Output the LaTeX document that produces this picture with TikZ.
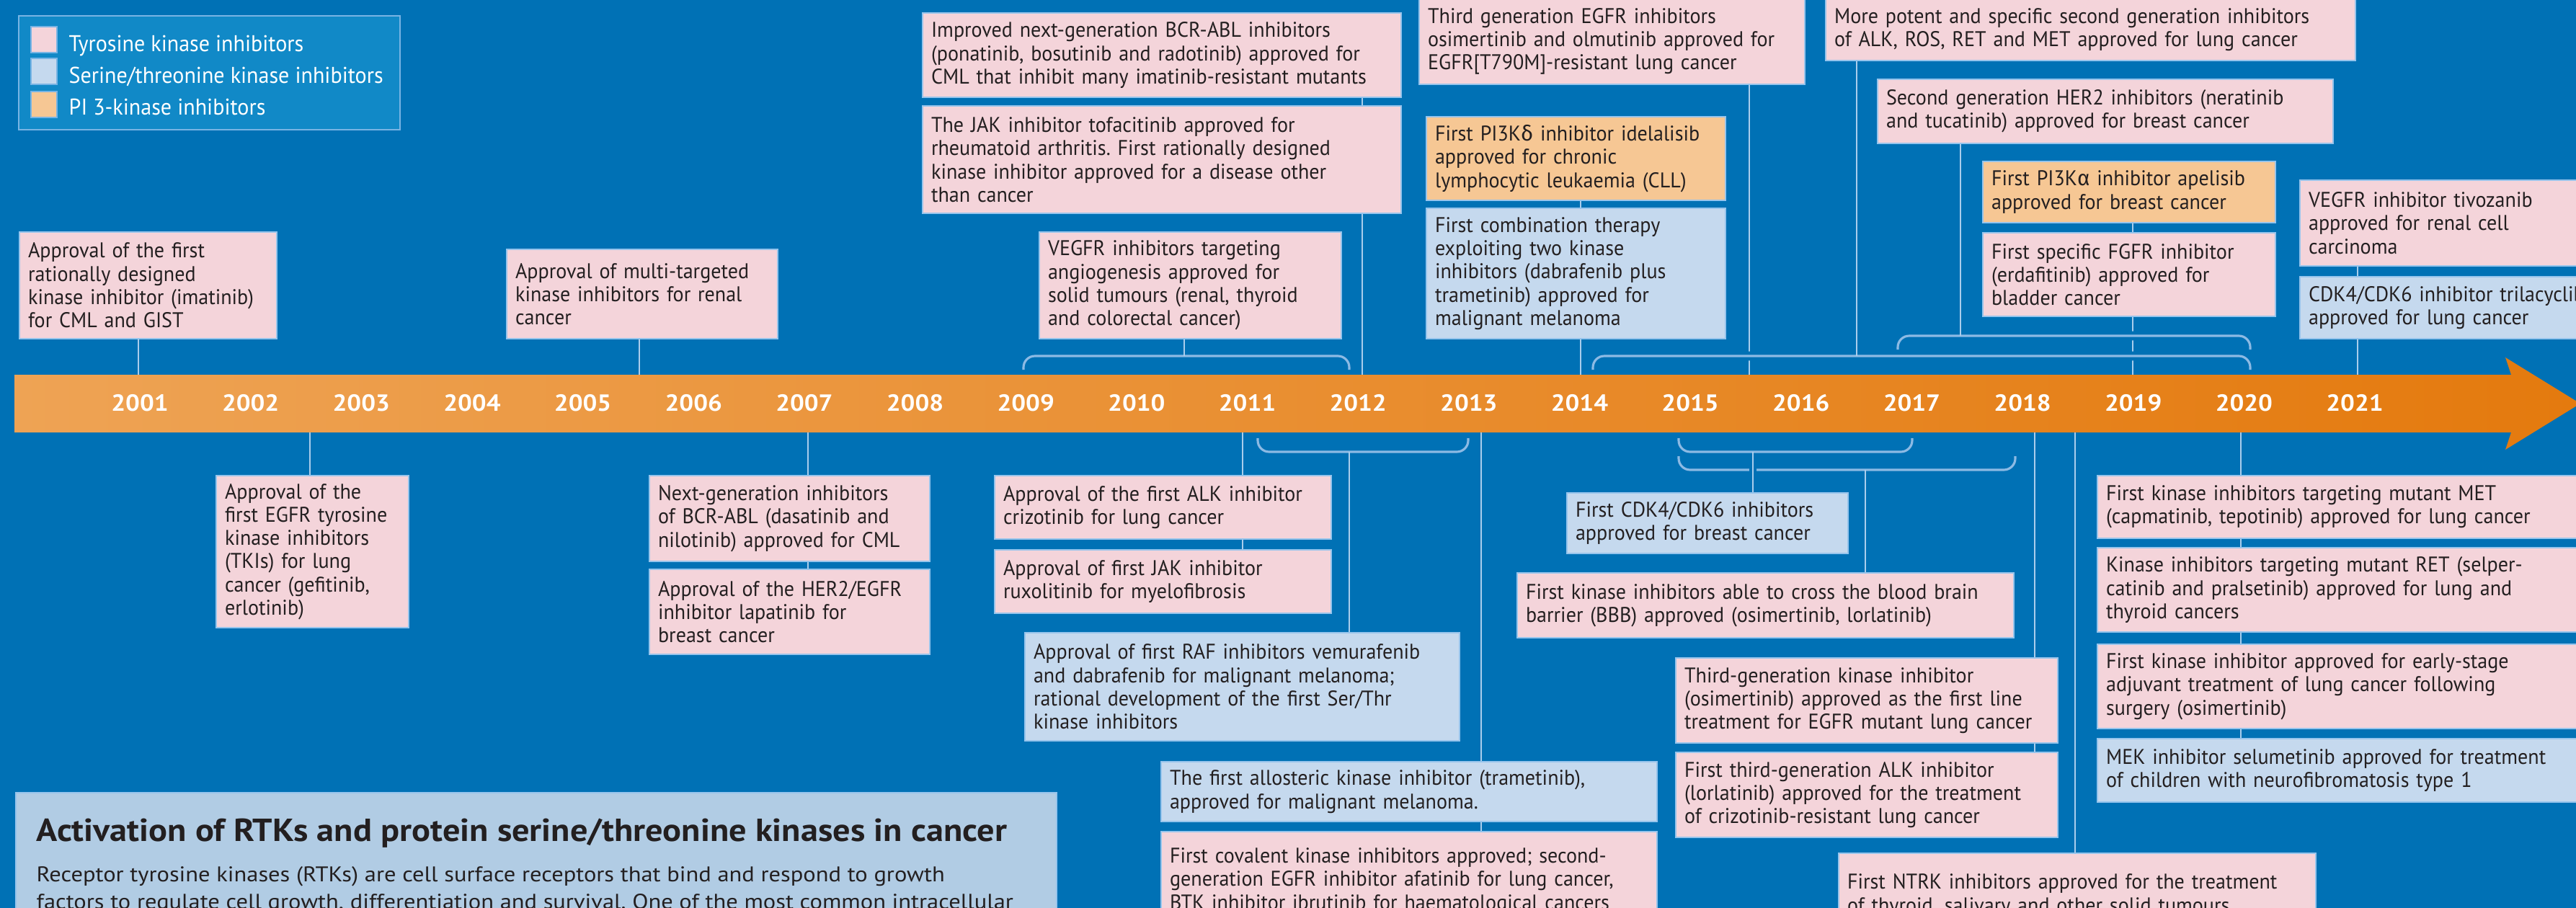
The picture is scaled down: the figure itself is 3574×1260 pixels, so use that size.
\documentclass[tikz,border=0pt]{standalone}
\usepackage{fontspec}
\setmainfont{PT Sans}[FakeStretch=0.95]
\newfontfamily\grk{Fira Sans}
\newfontfamily\ttlfont{PT Sans}[FakeStretch=1.09]
\newfontfamily\bodyfont{PT Sans}[FakeStretch=1.10]
\newfontfamily\yrfont{PT Sans}[FakeStretch=1.08]
\frenchspacing
\usetikzlibrary{calc}
\definecolor{bg}{RGB}{0,113,181}
\definecolor{legfill}{RGB}{17,137,199}
\definecolor{legedge}{RGB}{120,180,228}
\definecolor{pinkbox}{RGB}{244,212,218}
\definecolor{bluebox}{RGB}{197,217,238}
\definecolor{orangebox}{RGB}{246,199,148}
\definecolor{infobox}{RGB}{177,204,228}
\definecolor{boxedge}{RGB}{150,196,236}
\definecolor{connline}{RGB}{170,205,236}
\definecolor{brkline}{RGB}{140,186,228}
\definecolor{txt}{RGB}{35,31,32}
\definecolor{barL}{RGB}{238,163,84}
\definecolor{barR}{RGB}{228,122,14}
\newcommand\kbox[7]{%
  \pgfmathsetmacro\kbw{(#5-#3)*0.01}%
  \pgfmathsetmacro\kbh{(#6-#4)*0.01}%
  \pgfmathsetmacro\kbt{(#5-#3)*0.01-0.24}%
  \node[#2, anchor=north west, minimum width=\kbw cm, minimum height=\kbh cm, text width=\kbt cm] (#1) at (#3,#4) {#7};}
\begin{document}
\begin{tikzpicture}[x=0.01cm,y=-0.01cm,
  kb/.style={draw=boxedge, line width=0.6pt, inner xsep=0.12cm, inner ysep=0pt, align=left,
    font=\fontsize{8.4}{9.19}\selectfont, text=txt},
  tk/.style={kb, fill=pinkbox},
  st/.style={kb, fill=bluebox},
  pk/.style={kb, fill=orangebox},
  conn/.style={draw=connline, line width=0.45pt},
  brkplain/.style={draw=brkline, line width=0.9pt, rounded corners=4.5pt},
  brkhalo/.style={brkplain, preaction={draw=bg, line width=3.6pt}},
  swatch/.style={draw=legedge, line width=0.4pt, minimum width=0.36cm, minimum height=0.36cm, inner sep=0pt},
  legtxt/.style={anchor=base west, text=white, font=\fontsize{9}{10}\selectfont, inner sep=0pt},
  yearlbl/.style={anchor=base, text=white, font=\yrfont\bfseries\fontsize{9.2}{10}\selectfont, inner sep=0pt}]
\useasboundingbox (0,0) rectangle (3574,1260);
\clip (0,0) rectangle (3574,1260);
\fill[bg] (0,0) rectangle (3574,1260);

% legend
\node[draw=legedge, fill=legfill, line width=0.6pt, anchor=north west, minimum width=5.29cm, minimum height=1.58cm, inner sep=0pt] (legend) at (25,21) {};
\node[swatch, fill=pinkbox] (sw1) at (61,55) {};
\node[swatch, fill=bluebox] (sw2) at (61,99) {};
\node[swatch, fill=orangebox] (sw3) at (61,145) {};
\node[legtxt] (lg1) at (95,71) {Tyrosine kinase inhibitors};
\node[legtxt] (lg2) at (95,115) {Serine/threonine kinase inhibitors};
\node[legtxt] (lg3) at (95,159) {PI 3-kinase inhibitors};

% boxes above the timeline
\kbox{A1}{tk}{26}{321}{383}{469}{Approval of the first\\rationally designed\\kinase inhibitor (imatinib)\\for CML and GIST}
\kbox{A2}{tk}{702}{345}{1078}{469}{Approval of multi-targeted\\kinase inhibitors for renal\\cancer}
\kbox{A3}{tk}{1279}{17}{1943}{134}{Improved next-generation BCR-ABL inhibitors\\(ponatinib, bosutinib and radotinib) approved for\\CML that inhibit many imatinib-resistant mutants}
\kbox{A4}{tk}{1279}{146}{1943}{295}{The JAK inhibitor tofacitinib approved for\\rheumatoid arthritis. First rationally designed\\kinase inhibitor approved for a disease other\\than cancer}
\kbox{A5}{tk}{1441}{321}{1860}{469}{VEGFR inhibitors targeting\\angiogenesis approved for\\solid tumours (renal, thyroid\\and colorectal cancer)}
\kbox{A6}{tk}{1968}{-3}{2503}{116}{Third generation EGFR inhibitors\\osimertinib and olmutinib approved for\\EGFR[T790M]-resistant lung cancer}
\kbox{A7}{pk}{1978}{161}{2393}{277}{First PI3K{\grk δ} inhibitor idelalisib\\approved for chronic\\lymphocytic leukaemia (CLL)}
\kbox{A8}{st}{1978}{288}{2393}{469}{First combination therapy\\exploiting two kinase\\inhibitors (dabrafenib plus\\trametinib) approved for\\malignant melanoma}
\kbox{A9}{tk}{2532}{-3}{3267}{83}{More potent and specific second generation inhibitors\\of ALK, ROS, RET and MET approved for lung cancer}
\kbox{A10}{tk}{2604}{109}{3236}{198}{Second generation HER2 inhibitors (neratinib\\and tucatinib) approved for breast cancer}
\kbox{A11}{pk}{2750}{223}{3156}{308}{First PI3K{\grk α} inhibitor apelisib\\approved for breast cancer}
\kbox{A12}{tk}{2750}{322}{3156}{438}{First specific FGFR inhibitor\\(erdafitinib) approved for\\bladder cancer}
\kbox{A13}{tk}{3190}{249}{3640}{368}{VEGFR inhibitor tivozanib\\approved for renal cell\\carcinoma}
\kbox{A14}{st}{3190}{383}{3640}{469}{CDK4/CDK6 inhibitor trilacyclib\\approved for lung cancer}

% boxes below the timeline
\kbox{C1}{tk}{299}{659}{566}{870}{Approval of the\\first EGFR tyrosine\\kinase inhibitors\\(TKIs) for lung\\cancer (gefitinib,\\erlotinib)}
\kbox{C2}{tk}{900}{659}{1289}{778}{Next-generation inhibitors\\of BCR-ABL (dasatinib and\\nilotinib) approved for CML}
\kbox{C3}{tk}{900}{789}{1289}{907}{Approval of the HER2/EGFR\\inhibitor lapatinib for\\breast cancer}
\kbox{C4}{tk}{1379}{659}{1846}{747}{Approval of the first ALK inhibitor\\crizotinib for lung cancer}
\kbox{C5}{tk}{1379}{762}{1846}{850}{Approval of first JAK inhibitor\\ruxolitinib for myelofibrosis}
\kbox{C6}{st}{1421}{877}{2024}{1027}{Approval of first RAF inhibitors vemurafenib\\and dabrafenib for malignant melanoma;\\rational development of the first Ser/Thr\\kinase inhibitors}
\kbox{C7}{st}{1610}{1056}{2298}{1139}{The first allosteric kinase inhibitor (trametinib),\\approved for malignant melanoma.}
\kbox{C8}{tk}{1610}{1153}{2298}{1290}{First covalent kinase inhibitors approved; second-\\generation EGFR inhibitor afatinib for lung cancer,\\BTK inhibitor ibrutinib for haematological cancers}
\kbox{C9}{st}{2173}{683}{2563}{767}{First CDK4/CDK6 inhibitors\\approved for breast cancer}
\kbox{C10}{tk}{2104}{794}{2793}{884}{First kinase inhibitors able to cross the blood brain\\barrier (BBB) approved (osimertinib, lorlatinib)}
\kbox{C11}{tk}{2324}{912}{2854}{1030}{Third-generation kinase inhibitor\\(osimertinib) approved as the first line\\treatment for EGFR mutant lung cancer}
\kbox{C12}{tk}{2324}{1043}{2854}{1161}{First third-generation ALK inhibitor\\(lorlatinib) approved for the treatment\\of crizotinib-resistant lung cancer}
\kbox{C13}{tk}{2550}{1183}{3212}{1300}{First NTRK inhibitors approved for the treatment\\of thyroid, salivary and other solid tumours}
\kbox{C14}{tk}{2909}{659}{3640}{746}{First kinase inhibitors targeting mutant MET\\(capmatinib, tepotinib) approved for lung cancer}
\kbox{C15}{tk}{2909}{759}{3640}{876}{Kinase inhibitors targeting mutant RET (selper-\\catinib and pralsetinib) approved for lung and\\thyroid cancers}
\kbox{C16}{tk}{2909}{893}{3640}{1010}{First kinase inhibitor approved for early-stage\\adjuvant treatment of lung cancer following\\surgery (osimertinib)}
\kbox{C17}{st}{2909}{1024}{3640}{1112}{MEK inhibitor selumetinib approved for treatment\\of children with neurofibromatosis type 1}

% info box
\node[fill=infobox, draw=boxedge, line width=0.6pt, anchor=north west, minimum width=14.43cm, minimum height=2.2cm, inner sep=0pt] (info) at (21,1099) {};
\node[anchor=base west, inner sep=0pt, text=txt, font=\ttlfont\bfseries\fontsize{12.6}{14}\selectfont] (infotitle) at (50,1167) {Activation of RTKs and protein serine/threonine kinases in cancer};
\node[anchor=base west, inner sep=0pt, text=txt, font=\bodyfont\fontsize{8.4}{10}\selectfont] (infobody1) at (50,1223) {Receptor tyrosine kinases (RTKs) are cell surface receptors that bind and respond to growth};
\node[anchor=base west, inner sep=0pt, text=txt, font=\bodyfont\fontsize{8.4}{10}\selectfont] (infobody2) at (50,1261) {factors to regulate cell growth, differentiation and survival. One of the most common intracellular};

% timeline reference coordinates
\coordinate (bartop) at (0,520);
\coordinate (barbot) at (0,600);

% connectors that pass through the upper brackets
\coordinate (c6) at (2427,0);
\draw[conn] (A6.south -| c6) -- (bartop -| c6);
\coordinate (c12) at (2959,0);
\draw[conn] (A11.south -| c12) -- (A12.north -| c12);
\draw[conn] (A12.south -| c12) -- (bartop -| c12);

% upper brackets
\draw[brkplain] (1420,513) -- (1420,494) -- (1872,494) -- (1872,513);
\draw[brkhalo] (2210,513) -- (2210,494) -- (3122,494) -- (3122,513);
\draw[brkhalo] (2633,485) -- (2633,466) -- (3122,466) -- (3122,485);
\coordinate (b1) at (1643,494);
\coordinate (b2) at (2576,494);
\coordinate (b3) at (2720,466);

% other upper connectors
\draw[conn] (A5.south -| b1) -- (b1);
\draw[conn] (A9.south -| b2) -- (b2);
\draw[conn] (A10.south -| b3) -- (b3);
\coordinate (c1) at (192,0);
\draw[conn] (A1.south -| c1) -- (bartop -| c1);
\coordinate (c2) at (887,0);
\draw[conn] (A2.south -| c2) -- (bartop -| c2);
\coordinate (c4) at (1890,0);
\draw[conn] (A3.south -| c4) -- (A4.north -| c4);
\draw[conn] (A4.south -| c4) -- (bartop -| c4);
\coordinate (c8) at (2193,0);
\draw[conn] (A7.south -| c8) -- (A8.north -| c8);
\draw[conn] (A8.south -| c8) -- (bartop -| c8);
\coordinate (c14) at (3271,0);
\draw[conn] (A13.south -| c14) -- (A14.north -| c14);
\draw[conn] (A14.south -| c14) -- (bartop -| c14);

% lower brackets
\draw[brkplain] (1745,608) -- (1745,627) -- (2037,627) -- (2037,608);
\draw[brkplain] (2329,608) -- (2329,627) -- (2653,627) -- (2653,608);
\draw[brkplain] (2329,633) -- (2329,652) -- (2796,652) -- (2796,633);
\coordinate (b4) at (1872,627);
\coordinate (b5) at (2432,627);
\coordinate (b6) at (2588,652);

% lower connectors
\draw[conn] (b4) -- (C6.north -| b4);
\draw[conn, preaction={draw=bg, line width=3pt}] ($(b5)+(0,14)$) -- (C9.north -| b5);
\draw[conn] (b5) -- (C9.north -| b5);
\draw[conn] (b6) -- (C10.north -| b6);
\coordinate (d1) at (430,0);
\draw[conn] (barbot -| d1) -- (C1.north -| d1);
\coordinate (d2) at (1121,0);
\draw[conn] (barbot -| d2) -- (C2.north -| d2);
\draw[conn] (C2.south -| d2) -- (C3.north -| d2);
\coordinate (d4) at (1724,0);
\draw[conn] (barbot -| d4) -- (C4.north -| d4);
\draw[conn] (C4.south -| d4) -- (C5.north -| d4);
\coordinate (d7) at (2055,0);
\draw[conn] (barbot -| d7) -- (C7.north -| d7);
\draw[conn] (C7.south -| d7) -- (C8.north -| d7);
\coordinate (d11) at (2823,0);
\draw[conn] (barbot -| d11) -- (C11.north -| d11);
\draw[conn] (C11.south -| d11) -- (C12.north -| d11);
\coordinate (d13) at (2879,0);
\draw[conn] (barbot -| d13) -- (C13.north -| d13);
\coordinate (d14) at (3109,0);
\draw[conn] (barbot -| d14) -- (C14.north -| d14);
\draw[conn] (C14.south -| d14) -- (C15.north -| d14);
\draw[conn] (C15.south -| d14) -- (C16.north -| d14);
\draw[conn] (C16.south -| d14) -- (C17.north -| d14);

% timeline arrow
\shade[left color=barL, right color=barR] (20,520) -- (3484,520) -- (3476,496) -- (3580,560) -- (3476,624) -- (3484,600) -- (20,600) -- cycle;
\foreach \yr [count=\i from 0] in {2001,...,2021}
  \node[yearlbl] (y\yr) at ({194+\i*153.65},570) {\yr};
\end{tikzpicture}
\end{document}
